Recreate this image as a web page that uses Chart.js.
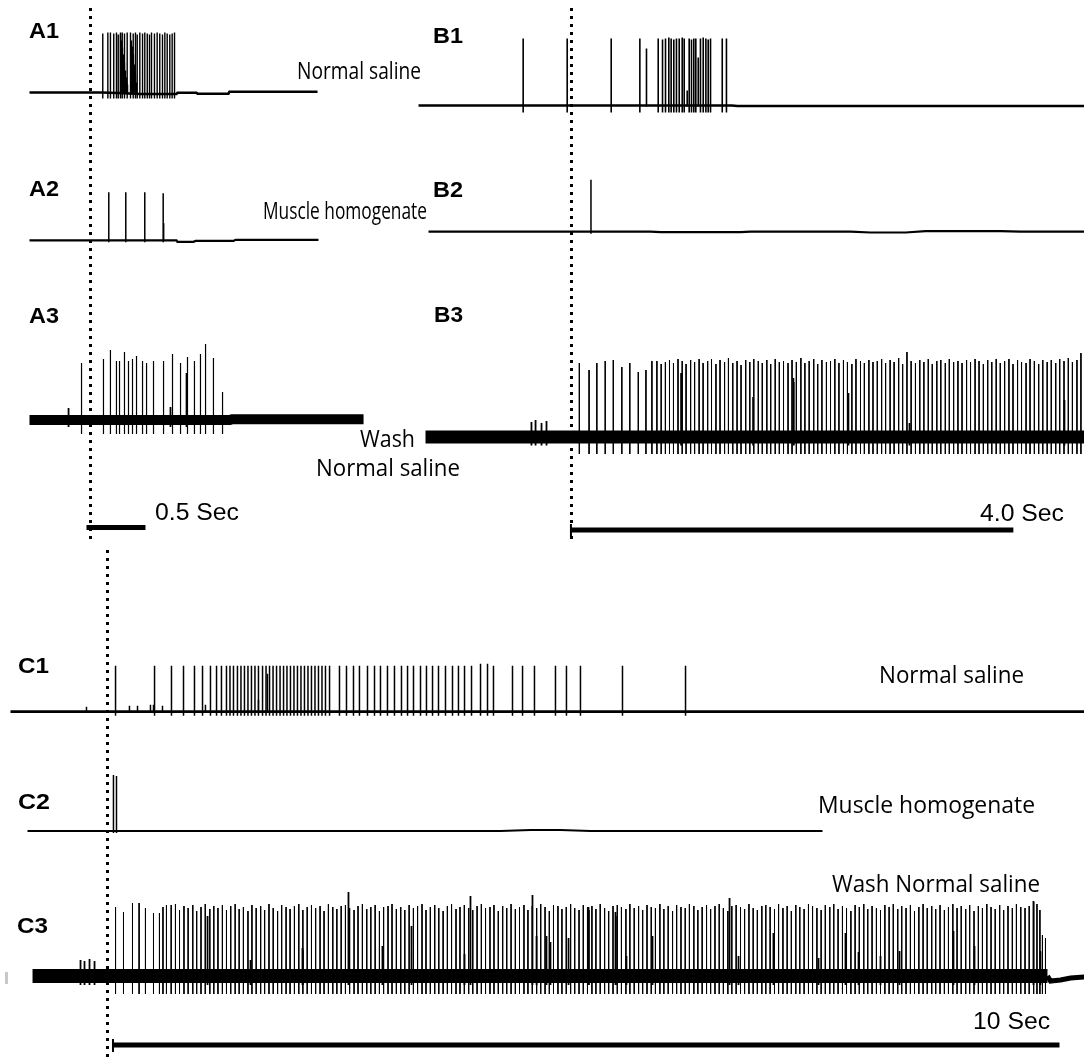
<!DOCTYPE html>
<html><head><meta charset="utf-8">
<script src="https://cdn.jsdelivr.net/npm/chart.js@4.4.1/dist/chart.umd.min.js"></script>
<style>
html,body{margin:0;padding:0;background:#fff;}
#fig{position:relative;width:1084px;height:1061px;overflow:hidden;background:#fff;}
#fig canvas{position:absolute;}
.lbl{position:absolute;white-space:nowrap;line-height:1;color:#000;transform-origin:0 50%;}
.bold{font-family:"Liberation Sans",Arial,sans-serif;font-weight:bold;font-size:22px;}
.myr{font-family:"Open Sans",sans-serif;font-size:23px;}
.ari{font-family:"Liberation Sans",Arial,sans-serif;font-size:23px;}
.tick{position:absolute;left:5px;top:972px;width:3px;height:12px;background:#c8c8c8;}
</style></head>
<body>
<div id="fig">
<canvas id="cA" width="415" height="545" style="left:0px;top:0px"></canvas>
<canvas id="cB" width="669" height="545" style="left:415px;top:0px"></canvas>
<canvas id="cC" width="1084" height="516" style="left:0px;top:545px"></canvas>
<div class="tick"></div>
<div class="lbl bold" data-w="30" style="left:29px;top:20px">A1</div>
<div class="lbl bold" data-w="30" style="left:433px;top:25px">B1</div>
<div class="lbl bold" data-w="30" style="left:29px;top:178px">A2</div>
<div class="lbl bold" data-w="30" style="left:433px;top:179px">B2</div>
<div class="lbl bold" data-w="30" style="left:29px;top:305px">A3</div>
<div class="lbl bold" data-w="29" style="left:434px;top:304px">B3</div>
<div class="lbl bold" data-w="31" style="left:18px;top:655px">C1</div>
<div class="lbl bold" data-w="32" style="left:18px;top:791px">C2</div>
<div class="lbl bold" data-w="31" style="left:17px;top:915px">C3</div>
<div class="lbl myr" data-w="124" style="left:297px;top:59px">Normal saline</div>
<div class="lbl myr" data-w="164" style="left:263px;top:199px">Muscle homogenate</div>
<div class="lbl myr" data-w="55" style="left:360px;top:427px">Wash</div>
<div class="lbl myr" data-w="144" style="left:316px;top:456px">Normal saline</div>
<div class="lbl ari" data-w="84" style="left:155px;top:501px">0.5 Sec</div>
<div class="lbl ari" data-w="84" style="left:980px;top:502px">4.0 Sec</div>
<div class="lbl myr" data-w="145" style="left:879px;top:663px">Normal saline</div>
<div class="lbl myr" data-w="217" style="left:818px;top:793px">Muscle homogenate</div>
<div class="lbl myr" data-w="208" style="left:832px;top:872px">Wash Normal saline</div>
<div class="lbl ari" data-w="77" style="left:973px;top:1010px">10 Sec</div>
</div>
<script>
// ================= DATA =================
// times in seconds relative to the stimulus (dotted line); amplitudes in display units (+ = upward)

// ---- A (0.5 s scale) ----
const A1_baseT = [-0.517, 0.085, 0.237, 0.424, 0.729, 0.737, 0.898, 0.907, 1.169, 1.178, 1.924];
const A1_baseV = [0, 0, -0.5, -1.5, -1.5, -0.3, -0.3, -1.2, -1.2, 0.8, 0.8];
const A1_spikeT = [0.104,0.147,0.169,0.197,0.220,0.235,0.254,0.269,0.288,0.311,0.339,0.362,0.381,0.396,0.418,0.441,0.460,0.481,0.500,0.517,0.542,0.565,0.587,0.610,0.630,0.650,0.672,0.692,0.712];
const A1_spikeA = [59,60,60,59,60,58,60,60,59,60,60,59,60,58,60,59,60,59,58,60,59,60,59,58,60,59,58,59,60];
const A1_extraT = [0.254,0.263,0.271,0.280,0.288,0.297,0.305,0.314,0.347,0.356,0.364,0.373,0.381,0.390];
const A1_extraA = [58,52,45,38,30,22,15,8,52,46,38,28,18,10];
const A1_trough = 6;

const A2_baseT = [-0.517, 0.729, 0.737, 0.873, 0.890, 1.212, 1.229, 1.932];
const A2_baseV = [0, 0, -1.5, -1.5, -0.6, -0.6, 0.5, 0.5];
const A2_spikeT = [0.155, 0.299, 0.460, 0.616];
const A2_spikeA = [48, 48, 48, 47];
const A2_extraT = [0.620];
const A2_extraA = [17];
const A2_trough = 2;

const A3_baseT = [-0.517, 1.180, 1.200, 2.314];
const A3_baseV = [0, 0, 0.8, 0.8];
const A3_spikeT = [-0.076,0.110,0.169,0.220,0.246,0.288,0.322,0.356,0.390,0.441,0.475,0.534,0.619,0.695,0.763,0.822,0.881,0.932,0.975,1.042,1.119];
const A3_spikeA = [57,61,70,59,59,68,59,61,64,59,57,59,59,66,57,63,59,66,76,62,28];
const A3_extraT = [-0.186, 0.678, 0.814];
const A3_extraA = [12, 13, 47];
const A3_trough = 14;

// ---- B (4.0 s scale) ----
const B1_baseT = [-1.383, 1.45, 1.50, 4.638];
const B1_baseV = [0, 0, -0.5, -0.5];
const B1_spikeT = [-0.437,-0.039,0.359,0.618,0.784,0.823,0.850,0.880,0.901,0.925,0.949,0.974,1.001,1.019,1.064,1.085,1.106,1.124,1.166,1.191,1.215,1.236,1.257,1.363,1.401];
const B1_spikeA = [67,67,67,67,67,66,67,68,67,66,67,67,68,67,67,66,67,67,67,68,67,66,67,67,67];
const B1_extraT = [0.678, 1.046, 1.146];
const B1_extraA = [57, 15, 48];
const B1_trough = 7;

const B2_baseT = [-1.293, 0.714, 0.805, 1.528, 1.618, 2.523, 2.703, 3.020, 3.201, 3.879, 4.060, 4.638];
const B2_baseV = [0, 0, -0.5, -0.5, 0, 0, -0.8, -0.8, 0.6, 0.6, 0, 0];
const B2_spikeT = [0.176];
const B2_spikeA = [52];
const B2_extraT = [];
const B2_extraA = [];
const B2_trough = 2;

const B3_baseT = [-1.320, 4.638];
const B3_baseV = [0, 0];
const B3_spikeT = [0.071,0.159,0.229,0.305,0.378,0.455,0.527,0.604,0.673,0.727,0.772,0.811,
0.849,0.886,0.922,0.963,1.001,1.036,1.077,1.113,1.154,1.190,
1.231,1.266,1.306,1.343,1.384,1.419,1.458,1.497,1.533,1.575,
1.612,1.648,1.689,1.725,1.766,1.801,1.842,1.879,1.917,1.958,
1.994,2.033,2.074,2.110,2.149,2.190,2.226,2.264,2.305,2.342,
2.381,2.418,2.459,2.495,2.535,2.572,2.613,2.648,2.689,2.726,
2.765,2.804,2.840,2.881,2.917,2.958,2.994,3.033,3.071,3.110,
3.149,3.186,3.226,3.262,3.303,3.339,3.380,3.416,3.455,3.494,
3.531,3.572,3.608,3.649,3.685,3.724,3.763,3.800,3.840,3.877,
3.916,3.955,3.992,4.033,4.069,4.110,4.146,4.185,4.224,4.261,
4.301,4.338,4.378,4.414,4.453,4.492,4.529,4.570,4.606];
const B3_spikeA = [74,67,74,76,77,70,74,65,67,76,76,73,
75,77,74,78,76,73,77,75,78,74,
76,78,73,77,75,79,74,76,72,77,
75,78,76,74,77,73,78,75,76,74,
77,75,79,74,76,78,73,77,75,76,
78,74,77,75,73,78,76,74,77,75,
76,78,74,77,75,79,73,85,76,74,
77,75,78,73,76,77,74,78,75,76,
74,77,75,78,76,73,77,75,78,74,
76,78,73,77,75,74,78,76,73,77,
75,77,74,78,76,79,75,77,84];
const B3_extraT = [-0.362,-0.325,-0.271,-0.226, 0.991, 1.642, 2.006, 2.010, 2.504, 3.056, 4.457];
const B3_extraA = [15, 17, 14, 16, 64, 40, 59, 55, 44, 14, 37];
const B3_trough = 17;

// ---- C (10 s scale) ----
const C1_baseT = [-1.025, 10.322];
const C1_baseV = [0, 0];
const C1_spikeT = [0.085,0.497,0.676,0.803,0.919,1.004,1.088,1.152,1.204,1.257,1.294,1.331,
1.373,1.410,1.447,1.484,1.521,1.558,1.595,1.638,1.675,1.712,1.749,1.786,1.823,1.860,1.896,1.933,1.970,2.007,2.044,2.081,2.118,2.155,2.192,2.229,2.266,2.303,2.346,
2.451,2.525,2.599,2.662,2.747,2.821,2.884,2.958,3.032,3.106,3.170,3.233,3.307,3.370,3.434,3.497,3.571,3.645,3.708,3.772,3.846,3.941,4.015,4.078,
4.279,4.385,4.511,4.733,4.849,4.997,5.441,6.107];
const C1_spikeA = [46,46,46,46,46,46,46,46,46,46,46,46,
46,46,46,46,46,46,46,46,46,46,46,46,46,46,46,46,46,46,46,46,46,46,46,46,46,46,46,
46,46,46,46,46,46,46,46,46,46,46,46,46,46,46,46,46,46,46,46,46,48,48,46,
46,46,46,46,46,46,46,46];
const C1_extraT = [-0.222, 0.232, 0.317, 0.454, 0.486, 0.581, 1.035, 1.595, 1.690];
const C1_extraA = [5, 6, 6, 7, 7, 6, 7, 12, 38];
const C1_trough = 4;

const C2_baseT = [-0.845, 4.152, 4.469, 4.786, 5.103, 7.554];
const C2_baseV = [0, 0, 1, 1, 0, 0];
const C2_spikeT = [0.063, 0.095];
const C2_spikeA = [56, 55];
const C2_extraT = [];
const C2_extraA = [];
const C2_trough = 2;

const C3_baseT = [-0.792, 9.931];
const C3_baseV = [0, 0];
const C3_tailT = [9.931, 9.963, 10.069, 10.175, 10.322];
const C3_tailV = [0, -5, -4, -2, -1];
const C3_spikeT = [0.085,0.169,0.264,0.334,0.401,0.486,0.549,0.586,0.623,0.673,
0.718,0.761,0.808,0.852,0.901,0.942,0.988,1.033,1.081,1.123,
1.167,1.214,1.257,1.302,1.349,1.391,1.436,1.484,1.526,1.571,
1.618,1.660,1.706,1.751,1.797,1.840,1.887,1.929,1.975,2.021,
2.064,2.110,2.155,2.199,2.246,2.288,2.334,2.380,2.423,2.469,
2.514,2.558,2.605,2.647,2.693,2.739,2.782,2.828,2.873,2.917,
2.964,3.006,3.052,3.098,3.141,3.187,3.232,3.276,3.323,3.365,
3.411,3.457,3.500,3.546,3.591,3.635,3.682,3.724,3.770,3.816,
3.859,3.905,3.950,3.994,4.041,4.083,4.129,4.175,4.218,4.264,
4.309,4.353,4.400,4.442,4.488,4.534,4.577,4.623,4.668,4.712,
4.759,4.801,4.847,4.893,4.936,4.982,5.027,5.071,5.118,5.160,
5.206,5.252,5.295,5.341,5.386,5.430,5.477,5.519,5.565,5.611,
5.654,5.700,5.745,5.789,5.836,5.878,5.924,5.970,6.013,6.059,
6.104,6.148,6.195,6.237,6.283,6.329,6.372,6.418,6.463,6.507,
6.554,6.596,6.642,6.688,6.731,6.777,6.822,6.866,6.913,6.955,
7.001,7.047,7.090,7.136,7.181,7.225,7.272,7.314,7.360,7.406,
7.449,7.495,7.540,7.584,7.631,7.673,7.719,7.765,7.808,7.854,
7.899,7.943,7.990,8.032,8.078,8.124,8.167,8.213,8.258,8.302,
8.349,8.391,8.437,8.483,8.526,8.572,8.617,8.661,8.708,8.750,
8.796,8.842,8.885,8.931,8.976,9.020,9.067,9.109,9.155,9.201,
9.244,9.290,9.335,9.379,9.426,9.468,9.514,9.560,9.603,9.649,
9.694,9.738,9.785,9.820,9.851,9.878,9.910];
const C3_spikeA = [69,64,73,73,68,63,63,69,71,71,
72,66,70,68,71,65,69,72,67,70,
68,71,66,70,72,67,69,65,71,68,
70,66,72,68,65,71,69,67,70,72,
66,69,71,68,70,65,72,69,67,70,
71,68,66,70,72,67,69,71,65,69,
70,72,67,69,66,71,68,70,72,66,
69,71,68,65,70,72,67,69,71,68,
66,70,72,68,69,71,65,70,68,72,
67,69,71,66,70,68,72,69,65,71,
70,67,69,72,68,66,71,69,70,67,
72,68,65,70,71,69,67,72,68,70,
66,71,69,68,72,67,70,65,71,69,
68,72,70,66,69,71,67,70,72,68,
65,70,71,69,67,72,68,66,70,71,
69,67,72,68,70,65,71,69,67,72,
70,68,66,71,69,72,67,70,68,65,
71,69,72,67,70,68,66,71,69,72,
67,70,68,71,65,69,72,68,70,67,
71,66,69,72,68,70,67,71,65,70,
68,72,69,67,71,66,70,68,72,69,
68,70,74,72,66,41,38];
const C3_extraT = [-0.285,-0.243,-0.190,-0.137, 1.057,1.511,2.060,2.065,2.546,2.905,3.212,3.772,3.835,4.490,4.533,4.638,4.680,4.871,5.082,5.087,5.367,5.372,5.483,5.758,6.572,6.667,7.036,7.512,7.797,7.935,8.167,8.368,8.938,9.160,9.783,9.857];
const C3_extraA = [16,15,17,15, 60,16,28,26,84,30,50,22,80,81,40,40,34,38,69,66,64,60,20,40,78,20,43,18,43,24,20,25,45,30,75,25];
const C3_trough = 18;

// ---- scale bars (s) ----
const SCALE_A = {start: -0.034, len: 0.5};
const SCALE_B = {start: -0.005, len: 4.0};
const SCALE_C = {start: 0.058, len: 10};

// ================= LAYOUT / STYLE =================
const GROUPS = [
  {canvas:'cA', left:0, width:415, height:545, stimX:90.5, pxPerSec:118, stimY:[8,542], barY:527.5, barTick:false, bar:SCALE_A,
   traces:[
     {base:92.5, baseW:2.6, spikeW:1.4, band:false, d:{bt:A1_baseT,bv:A1_baseV,st:A1_spikeT,sa:A1_spikeA,et:A1_extraT,ea:A1_extraA,tr:A1_trough}},
     {base:240.3, baseW:2.2, spikeW:1.5, band:false, d:{bt:A2_baseT,bv:A2_baseV,st:A2_spikeT,sa:A2_spikeA,et:A2_extraT,ea:A2_extraA,tr:A2_trough}},
     {base:420, baseW:10, spikeW:1.2, band:true, d:{bt:A3_baseT,bv:A3_baseV,st:A3_spikeT,sa:A3_spikeA,et:A3_extraT,ea:A3_extraA,tr:A3_trough}}
   ]},
  {canvas:'cB', left:415, width:669, height:545, stimX:571.5, pxPerSec:110.6, stimY:[8,540], barY:530, barTick:true, bar:SCALE_B,
   traces:[
     {base:105.5, baseW:2.6, spikeW:1.6, band:false, d:{bt:B1_baseT,bv:B1_baseV,st:B1_spikeT,sa:B1_spikeA,et:B1_extraT,ea:B1_extraA,tr:B1_trough}},
     {base:231.7, baseW:2.2, spikeW:1.5, band:false, d:{bt:B2_baseT,bv:B2_baseV,st:B2_spikeT,sa:B2_spikeA,et:B2_extraT,ea:B2_extraA,tr:B2_trough}},
     {base:437, baseW:13, spikeW:1, band:true, d:{bt:B3_baseT,bv:B3_baseV,st:B3_spikeT,sa:B3_spikeA,et:B3_extraT,ea:B3_extraA,tr:B3_trough}}
   ]},
  {canvas:'cC', left:0, width:1084, height:516, stimX:107.5, pxPerSec:94.65, stimY:[5,516], barY:500, barTick:true, bar:SCALE_C,
   traces:[
     {base:166.7, baseW:2.8, spikeW:1.5, band:false, d:{bt:C1_baseT,bv:C1_baseV,st:C1_spikeT,sa:C1_spikeA,et:C1_extraT,ea:C1_extraA,tr:C1_trough}},
     {base:286, baseW:2.2, spikeW:1.5, band:false, d:{bt:C2_baseT,bv:C2_baseV,st:C2_spikeT,sa:C2_spikeA,et:C2_extraT,ea:C2_extraA,tr:C2_trough}},
     {base:431, baseW:14, spikeW:1, band:true, tail:{t:C3_tailT,v:C3_tailV,w:5}, d:{bt:C3_baseT,bv:C3_baseV,st:C3_spikeT,sa:C3_spikeA,et:C3_extraT,ea:C3_extraA,tr:C3_trough}}
   ]}
];

const common = {showLine:true, pointRadius:0, pointHoverRadius:0, borderColor:'#000', backgroundColor:'#000', fill:false, tension:0, spanGaps:false, clip:false, borderCapStyle:'butt'};

function traceSets(tr){
  const d = tr.d, b = tr.base, out = [];
  out.push(Object.assign({}, common, {data: d.bt.map((t,i)=>({x:t, y:b - d.bv[i]})), borderWidth: tr.baseW}));
  if (tr.tail) out.push(Object.assign({}, common, {data: tr.tail.t.map((t,i)=>({x:t, y:b - tr.tail.v[i]})), borderWidth: tr.tail.w}));
  const sp = [];
  d.st.forEach((t,i)=>{ sp.push({x:t,y:b - d.sa[i]},{x:t,y:b + d.tr},{x:t,y:null}); });
  out.push(Object.assign({}, common, {data: sp, borderWidth: tr.spikeW}));
  const ex = [];
  d.et.forEach((t,i)=>{ ex.push({x:t,y:b - d.ea[i]},{x:t,y:b + (tr.band ? d.tr*0.5 : 1)},{x:t,y:null}); });
  if (ex.length) out.push(Object.assign({}, common, {data: ex, borderWidth: tr.band ? 1.8 : tr.spikeW}));
  return out;
}

GROUPS.forEach(g=>{
  const sets = [];
  g.traces.forEach(tr=>sets.push(...traceSets(tr)));
  // stimulus marker (t = 0)
  sets.push(Object.assign({}, common, {data:[{x:0,y:g.stimY[0]},{x:0,y:g.stimY[1]}], borderWidth:3, borderDash:[3,5]}));
  // scale bar
  sets.push(Object.assign({}, common, {data:[{x:g.bar.start,y:g.barY},{x:g.bar.start+g.bar.len,y:g.barY}], borderWidth:5}));
  if (g.barTick) sets.push(Object.assign({}, common, {data:[{x:g.bar.start,y:g.barY-6},{x:g.bar.start,y:g.barY+7}], borderWidth:2}));
  const xMin = (g.left - g.stimX)/g.pxPerSec, xMax = (g.left + g.width - g.stimX)/g.pxPerSec;
  new Chart(document.getElementById(g.canvas), {
    type:'scatter',
    data:{datasets:sets},
    options:{
      animation:false, responsive:false, devicePixelRatio:1, events:[],
      layout:{padding:0},
      plugins:{legend:{display:false}, tooltip:{enabled:false}, title:{display:false}},
      scales:{
        x:{type:'linear', min:xMin, max:xMax, display:false},
        y:{type:'linear', min:0, max:g.height, reverse:true, display:false}
      }
    }
  });
});

function fitLabels(){
  document.querySelectorAll('.lbl').forEach(el=>{
    el.style.transform='none';
    const w = +el.dataset.w, m = el.getBoundingClientRect().width;
    if (m > 0) el.style.transform = 'scaleX(' + (w/m) + ')';
  });
}
fitLabels();
if (document.fonts && document.fonts.ready) document.fonts.ready.then(fitLabels);
</script>
</body></html>
